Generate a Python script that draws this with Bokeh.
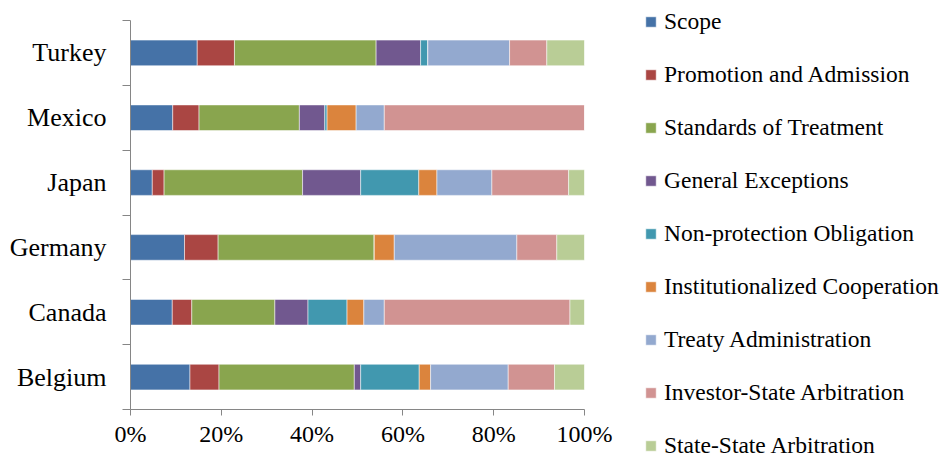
from bokeh.plotting import figure
from bokeh.models import ColumnDataSource, FixedTicker, Legend, LegendItem, Range1d
from bokeh.embed import file_html
from bokeh.resources import INLINE

countries = ["Turkey", "Mexico", "Japan", "Germany", "Canada", "Belgium"]
categories = ["Scope", "Promotion and Admission", "Standards of Treatment",
              "General Exceptions", "Non-protection Obligation",
              "Institutionalized Cooperation", "Treaty Administration",
              "Investor-State Arbitration", "State-State Arbitration"]
scope = [14.7, 9.3, 4.8, 11.9, 9.2, 13.1]
promotion = [8.2, 5.8, 2.6, 7.4, 4.3, 6.4]
standards = [31.2, 22.1, 30.5, 34.4, 18.3, 29.8]
general = [9.8, 5.6, 12.8, 0.0, 7.3, 1.4]
nonprotection = [1.6, 0.5, 12.8, 0.0, 8.6, 12.9]
institutional = [0.0, 6.4, 4.0, 4.4, 3.7, 2.5]
treaty = [18.0, 6.2, 12.1, 27.0, 4.5, 17.1]
investor_state = [8.2, 44.1, 16.9, 8.8, 40.9, 10.2]
state_state = [8.3, 0.0, 3.5, 6.1, 3.2, 6.6]
x_ticks = [0, 20, 40, 60, 80, 100]
x_tick_labels = ["0%", "20%", "40%", "60%", "80%", "100%"]

colors = ["#4572A7", "#AA4643", "#89A54E", "#71588F", "#4198AF",
          "#DB843D", "#93A9CF", "#D19392", "#B9CD96"]

series = [scope, promotion, standards, general, nonprotection,
          institutional, treaty, investor_state, state_state]
n = len(countries)
ypos = [n - i - 0.5 for i in range(n)]
data = {"y": ypos, "country": countries}
keys = []
for i, s in enumerate(series):
    k = f"s{i}"
    keys.append(k)
    data[k] = s
source = ColumnDataSource(data)

FONT = "'Liberation Serif', 'Times New Roman', serif"

p = figure(output_backend="svg", toolbar_location=None,
           x_range=Range1d(0, 100), y_range=Range1d(0, n),
           min_border_left=130, min_border_right=357, min_border_top=20,
           min_border_bottom=44, frame_width=454, frame_height=389)
p.outline_line_color = None
p.xgrid.visible = False
p.ygrid.visible = False
p.background_fill_color = "white"
p.border_fill_color = "white"

renderers = p.hbar_stack(keys, y="y", height=0.395, source=source, color=colors,
                         line_color="white", line_alpha=0.5, line_width=1)

# x axis
xa = p.xaxis[0]
xa.ticker = FixedTicker(ticks=x_ticks, minor_ticks=[])
xa.major_label_overrides = {t: l for t, l in zip(x_ticks, x_tick_labels)}
xa.axis_line_color = "#868686"
xa.major_tick_line_color = "#868686"
xa.major_tick_in = 0
xa.major_tick_out = 6
xa.minor_tick_line_color = None
xa.major_label_text_font = FONT
xa.major_label_text_font_size = "24px"
xa.major_label_text_color = "black"
xa.major_label_standoff = 5

# y axis: labels at centers, ticks at boundaries
ya = p.yaxis[0]
ya.ticker = FixedTicker(ticks=ypos, minor_ticks=list(range(n + 1)))
ya.major_label_overrides = {y: c for y, c in zip(ypos, countries)}
ya.axis_line_color = "#868686"
ya.major_tick_line_color = None
ya.major_tick_in = 0
ya.major_tick_out = 0
ya.minor_tick_line_color = "#868686"
ya.minor_tick_in = 0
ya.minor_tick_out = 8
ya.major_label_text_font = FONT
ya.major_label_text_font_size = "26px"
ya.major_label_text_color = "black"
ya.major_label_standoff = 16

items = [LegendItem(label=c, renderers=[r]) for c, r in zip(categories, renderers)]
legend = Legend(items=items, location=(60, -51), orientation="vertical",
                glyph_width=13, glyph_height=13, label_standoff=7,
                label_height=30, spacing=23, padding=0, margin=0,
                border_line_color=None, background_fill_alpha=0,
                label_text_font=FONT, label_text_font_size="23.5px",
                label_text_color="black")
p.add_layout(legend, "right")

open("out.html", "w").write(file_html(p, INLINE))
